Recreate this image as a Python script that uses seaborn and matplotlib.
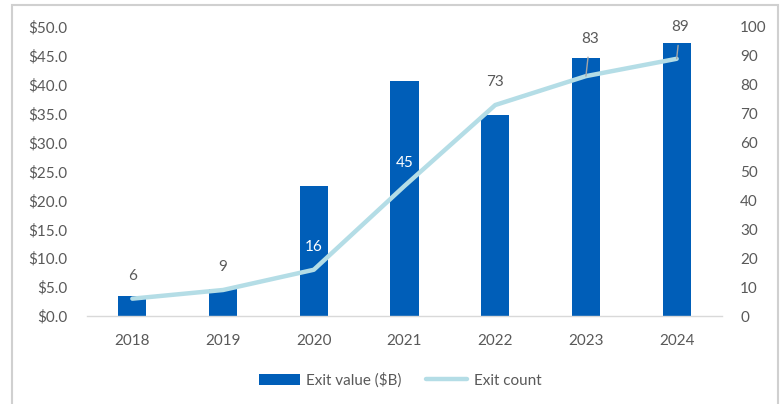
import matplotlib
matplotlib.use("Agg")
import matplotlib.pyplot as plt
import seaborn as sns
import pandas as pd
import numpy as np
from matplotlib.patches import Rectangle
from matplotlib.lines import Line2D
from matplotlib.patches import Patch

years = ["2018", "2019", "2020", "2021", "2022", "2023", "2024"]
exit_value = [3.5, 4.7, 22.5, 40.7, 34.7, 44.6, 47.2]
exit_count = [6, 9, 16, 45, 73, 83, 89]
left_ticks = [0, 5, 10, 15, 20, 25, 30, 35, 40, 45, 50]
right_ticks = [0, 10, 20, 30, 40, 50, 60, 70, 80, 90, 100]

sns.set_style("white")
plt.rcParams['font.family'] = ['Lato', 'DejaVu Sans']

BAR = "#005EB8"
LINE = "#B4DDE6"
TXT = "#595959"

W, H = 780, 404
fig = plt.figure(figsize=(7.8, 4.04), dpi=100)
ax = fig.add_axes([87 / W, 1 - 316 / H, (722 - 87) / W, (316 - 27) / H])

df = pd.DataFrame({"year": years, "value": exit_value, "count": exit_count})
sns.barplot(data=df, x="year", y="value", color=BAR, width=0.31, ax=ax,
            saturation=1, edgecolor="none")
ax.set_ylim(0, 50)
ax.set_xlim(-0.5, len(years) - 0.5)
ax.set_yticks(left_ticks)
ax.set_yticklabels([f"${v:.1f}" for v in left_ticks])
ax.set_xlabel("")
ax.set_ylabel("")
for s in ["top", "right", "left"]:
    ax.spines[s].set_visible(False)
ax.spines["bottom"].set_color("#D9D9D9")
ax.spines["bottom"].set_linewidth(1.0)
ax.tick_params(axis="both", length=0, labelsize=11, colors=TXT)
ax.tick_params(axis="y", pad=14)
ax.tick_params(axis="x", pad=13)

ax2 = ax.twinx()
xpos = np.arange(len(years))
sns.lineplot(x=xpos, y=exit_count, color=LINE, linewidth=3.2, ax=ax2)
ax2.set_ylim(0, 100)
ax2.set_yticks(right_ticks)
ax2.set_yticklabels([str(v) for v in right_ticks])
ax2.tick_params(axis="y", length=0, labelsize=11, colors=TXT, pad=13)
for s in ["top", "right", "left", "bottom"]:
    ax2.spines[s].set_visible(False)
ax2.set_xlim(-0.5, len(years) - 0.5)

label_colors = [TXT, TXT, "white", "white", TXT, TXT, TXT]
for i, (c, col) in enumerate(zip(exit_count, label_colors)):
    if i == 5:
        ax2.annotate(str(c), xy=(i, c), xytext=(3, 27), textcoords="offset points",
                     ha="center", va="center", fontsize=11, color=col,
                     arrowprops=dict(arrowstyle="-", color="#A6A6A6", lw=1,
                                     shrinkA=6, shrinkB=0))
    elif i == 6:
        ax2.annotate(str(c), xy=(i, c), xytext=(2.5, 23), textcoords="offset points",
                     ha="center", va="center", fontsize=11, color=col,
                     arrowprops=dict(arrowstyle="-", color="#A6A6A6", lw=1,
                                     shrinkA=6, shrinkB=0))
    else:
        ax2.annotate(str(c), xy=(i, c), xytext=(0, 16.5), textcoords="offset points",
                     ha="center", va="center", fontsize=11, color=col)

handles = [Patch(facecolor=BAR, edgecolor="none"),
           Line2D([0], [0], color=LINE, linewidth=3.2)]
fig.legend(handles, ["Exit value ($B)", "Exit count"], loc="center",
           bbox_to_anchor=(400 / W, 1 - 380 / H), ncol=2, frameon=False,
           fontsize=11, labelcolor=TXT, handlelength=2.7, columnspacing=1.6,
           handletextpad=0.4)

fig.patches.append(Rectangle((12 / W, -0.05), (778 - 12) / W, 1.05 - 5 / H,
                             transform=fig.transFigure, fill=False,
                             edgecolor="#D0D0D0", linewidth=1.5))

fig.savefig("out.png", dpi=100)
